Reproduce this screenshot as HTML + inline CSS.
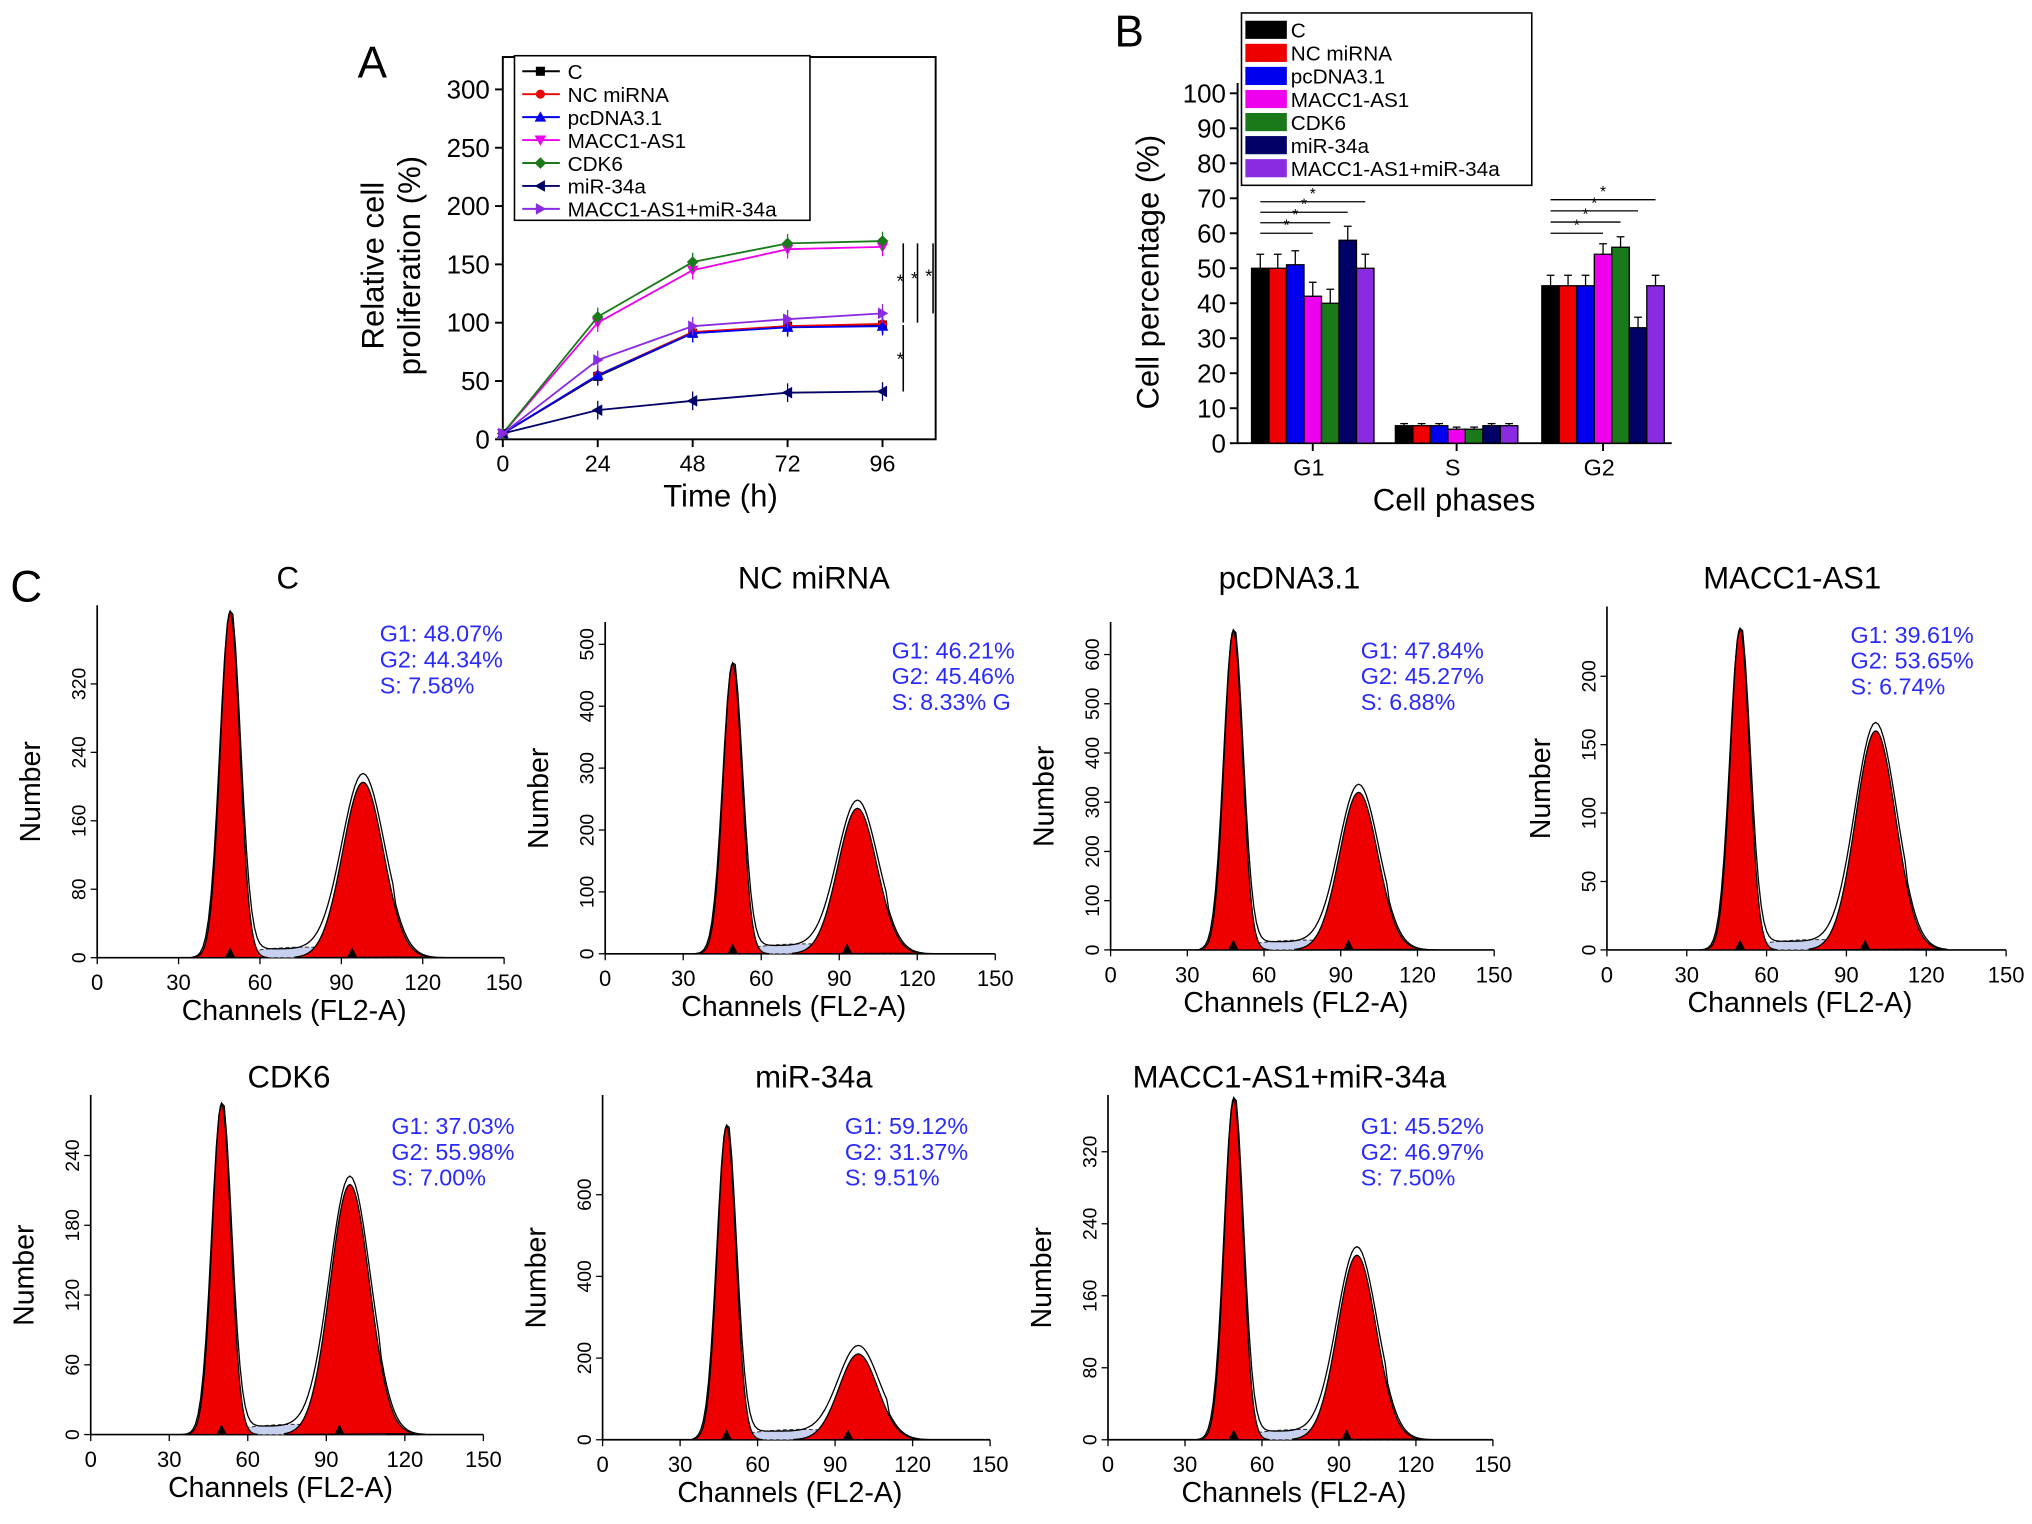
<!DOCTYPE html>
<html><head><meta charset="utf-8"><style>
html,body{margin:0;padding:0;background:#fff}
svg{display:block;font-family:"Liberation Sans",Arial,sans-serif}
</style></head><body>
<svg id="root" width="2032" height="1524" viewBox="0 0 1568 1176" xmlns="http://www.w3.org/2000/svg">
<rect width="1568" height="1176" fill="#fff"/>
<g id="pa"></g>
<g id="pb"></g>
<g id="pc"></g>
</svg>
<script>
// ---------- Panel A data ----------
const timeCats=[0,24,48,72,96];
const seriesNames=["C","NC miRNA","pcDNA3.1","MACC1-AS1","CDK6","miR-34a","MACC1-AS1+miR-34a"];
const seriesColors=["#000","#e00","#0000ee","#ee00ee","#1a7a1a","#000066","#8a2be2"];
const seriesMarkers=["square","circle","tri-up","tri-down","diamond","tri-left","tri-right"];
const sC=[5,54,91,97,98];
const sNC=[5,55,92,97,99];
const sPc=[5,55,91,96,97];
const sMA=[5,100,145,163,165];
const sCDK=[5,105,152,168,170];
const sMiR=[5,25,33,40,41];
const sCombo=[5,68,97,103,108];
const aTicksY=[0,50,100,150,200,250,300];
// ---------- Panel B data ----------
const phaseCats=["G1","S","G2"];
const bC=[50,5,45];
const bNC=[50,5,45];
const bPc=[51,5,45];
const bMA=[42,4,54];
const bCDK=[40,4,56];
const bMiR=[58,5,33];
const bCombo=[50,5,45];
const bErr=[4,0.6,3];
const bTicksY=[0,10,20,30,40,50,60,70,80,90,100];
// ---------- Panel C data ----------
const histTitles=["C","NC miRNA","pcDNA3.1","MACC1-AS1","CDK6","miR-34a","MACC1-AS1+miR-34a"];
const histG1=["G1: 48.07%","G1: 46.21%","G1: 47.84%","G1: 39.61%","G1: 37.03%","G1: 59.12%","G1: 45.52%"];
const histG2=["G2: 44.34%","G2: 45.46%","G2: 45.27%","G2: 53.65%","G2: 55.98%","G2: 31.37%","G2: 46.97%"];
const histS=["S: 7.58%","S: 8.33% G","S: 6.88%","S: 6.74%","S: 7.00%","S: 9.51%","S: 7.50%"];
const g1Peak=[405,470,650,235,285,770,380];
const g2Peak=[205,235,320,160,215,210,205];
const g1Mean=[49,49,48,50,50,48,49];
const g2Mean=[98,97,97,101,99,99,97];
const yMaxH=[412,536,666,251,292,844,383];
const yTickStep=[80,100,100,50,60,200,80];
const yTickMax=[320,500,600,200,240,600,320];

const NS="http://www.w3.org/2000/svg";
function mk(parent,tag,attrs,name,text){
  const e=document.createElementNS(NS,tag);
  for(const k in attrs)e.setAttribute(k,attrs[k]);
  
  
  if(text!==undefined)e.textContent=text;
  parent.appendChild(e);return e;
}
function marker(g,type,x,y,col,name){
  const r=3.5;let d;
  if(type==='circle'){return mk(g,'circle',{cx:x,cy:y,r:r,fill:col},name);}
  if(type==='square')d=`M${x-r},${y-r}h${2*r}v${2*r}h${-2*r}Z`;
  if(type==='tri-up')d=`M${x},${y-r-1}L${x+r+1},${y+r}L${x-r-1},${y+r}Z`;
  if(type==='tri-down')d=`M${x},${y+r+1}L${x+r+1},${y-r}L${x-r-1},${y-r}Z`;
  if(type==='diamond')d=`M${x},${y-r-1}L${x+r+1},${y}L${x},${y+r+1}L${x-r-1},${y}Z`;
  if(type==='tri-left')d=`M${x-r-1},${y}L${x+r},${y-r-1}L${x+r},${y+r+1}Z`;
  if(type==='tri-right')d=`M${x+r+1},${y}L${x-r},${y-r-1}L${x-r},${y+r+1}Z`;
  return mk(g,'path',{d:d,fill:col},name);
}
// ================= Panel A =================
(function(){
  const g=document.getElementById('pa');
  const x0=388,x1=722,yb=339,yt=44;
  const X=t=>x0+t*(293/96), Y=v=>yb-v*0.9;
  mk(g,'text',{x:276,y:60,'font-size':34},'panel-label-a','A');
  mk(g,'rect',{x:x0,y:yt,width:x1-x0,height:yb-yt,fill:'none',stroke:'#000','stroke-width':1.5},'plot-frame-a');
  aTicksY.forEach(v=>{mk(g,'line',{x1:x0-6,x2:x0,y1:Y(v),y2:Y(v),stroke:'#000','stroke-width':1.5},'y-tick');
    mk(g,'text',{x:x0-10,y:Y(v)+7,'font-size':20,'text-anchor':'end'},'y-tick-label',v);});
  timeCats.forEach(t=>{mk(g,'line',{x1:X(t),x2:X(t),y1:yb,y2:yb+6,stroke:'#000','stroke-width':1.5},'x-tick');
    mk(g,'text',{x:X(t),y:yb+25,'font-size':18,'text-anchor':'middle'},'x-tick-label',t);});
  mk(g,'text',{x:556,y:391,'font-size':24,'text-anchor':'middle'},'x-axis-title','Time (h)');
  mk(g,'text',{transform:'translate(296,205) rotate(-90)','font-size':24,'text-anchor':'middle'},'y-axis-title','Relative cell');
  mk(g,'text',{transform:'translate(324,205) rotate(-90)','font-size':24,'text-anchor':'middle'},'y-axis-title-2','proliferation (%)');
  const S=[sC,sNC,sPc,sMA,sCDK,sMiR,sCombo];
  S.forEach((arr,i)=>{
    const d=arr.map((v,j)=>(j?'L':'M')+X(timeCats[j])+','+Y(v)).join('');
    mk(g,'path',{d:d,fill:'none',stroke:seriesColors[i],'stroke-width':1.4},'line-'+i);
    arr.forEach((v,j)=>{
      if(j>0){mk(g,'line',{x1:X(timeCats[j]),x2:X(timeCats[j]),y1:Y(v+8),y2:Y(v-8),stroke:seriesColors[i],'stroke-width':1},'error-bar');}
      marker(g,seriesMarkers[i],X(timeCats[j]),Y(v),seriesColors[i],'point');
    });
  });
  [[697,Y(168),Y(100)],[708,Y(168),Y(100)],[720,Y(168),Y(108)],[697,Y(98),Y(41)]].forEach((l,i)=>{
    mk(g,'line',{x1:l[0],x2:l[0],y1:l[1],y2:l[2],stroke:'#000','stroke-width':1.2},'significance-line');});
  [[692,222],[703,220],[714,218],[692,282]].forEach(p=>mk(g,'text',{x:p[0],y:p[1],'font-size':14},'significance-star','*'));
  mk(g,'rect',{x:397,y:43,width:228,height:127,fill:'#fff',stroke:'#000','stroke-width':1.2},'legend-box-a');
  seriesNames.forEach((n,i)=>{const y=55+i*17.7;
    mk(g,'line',{x1:403,x2:432,y1:y,y2:y,stroke:seriesColors[i],'stroke-width':1.5},'legend-line');
    marker(g,seriesMarkers[i],417,y,seriesColors[i],'legend-marker');
    mk(g,'text',{x:438,y:y+6,'font-size':16},'legend-entry',n);});
})();
// ================= Panel B =================
(function(){
  const g=document.getElementById('pb');
  const x0=955,x1=1290,yb=342;
  const Y=v=>yb-v*2.7;
  const groupC=[1013,1124,1237], bw=13.5;
  mk(g,'text',{x:860,y:36,'font-size':34},'panel-label-b','B');
  mk(g,'line',{x1:x0,x2:x0,y1:yb,y2:Y(100)-8,stroke:'#000','stroke-width':1.5},'y-axis');
  mk(g,'line',{x1:x0,x2:x1,y1:yb,y2:yb,stroke:'#000','stroke-width':1.5},'x-axis');
  bTicksY.forEach(v=>{mk(g,'line',{x1:x0-6,x2:x0,y1:Y(v),y2:Y(v),stroke:'#000','stroke-width':1.5},'y-tick');
    mk(g,'text',{x:x0-9,y:Y(v)+7,'font-size':20,'text-anchor':'end'},'y-tick-label',v);});
  const B=[bC,bNC,bPc,bMA,bCDK,bMiR,bCombo];
  phaseCats.forEach((c,k)=>{
    mk(g,'line',{x1:groupC[k],x2:groupC[k],y1:yb,y2:yb+6,stroke:'#000','stroke-width':1.5},'x-tick');
    mk(g,'text',{x:groupC[k]-3,y:yb+25,'font-size':18,'text-anchor':'middle'},'x-tick-label',c);
    B.forEach((arr,i)=>{const x=groupC[k]-3.5*bw+i*bw;
      mk(g,'rect',{x:x,y:Y(arr[k]),width:bw,height:yb-Y(arr[k]),fill:seriesColors[i],stroke:'#000','stroke-width':1},'bar-'+c+'-'+i);
      const cx=x+bw/2,e=bErr[k];
      mk(g,'line',{x1:cx,x2:cx,y1:Y(arr[k]+e),y2:Y(arr[k]),stroke:'#000','stroke-width':1},'error-bar');
      mk(g,'line',{x1:cx-3,x2:cx+3,y1:Y(arr[k]+e),y2:Y(arr[k]+e),stroke:'#000','stroke-width':1},'error-cap');
    });
  });
  mk(g,'text',{x:1122,y:394,'font-size':24,'text-anchor':'middle'},'x-axis-title','Cell phases');
  mk(g,'text',{transform:'translate(894,210) rotate(-90)','font-size':24,'text-anchor':'middle'},'y-axis-title','Cell percentage (%)');
  [[0,1,3,Y(60)],[0,1,4,Y(63)],[0,1,5,Y(66)],[0,1,6,Y(69)]].forEach((b,i)=>{
    [0,2].forEach(k=>{const xs=groupC[k]-3.5*bw+bw/2;
      const yy=k==0?b[3]:Y(60+i*3.2);
      mk(g,'line',{x1:xs,x2:groupC[k]-3.5*bw+b[2]*bw+bw/2,y1:yy,y2:yy,stroke:'#000','stroke-width':1},'significance-bracket');
      mk(g,'text',{x:(xs+groupC[k]-3.5*bw+b[2]*bw+bw/2)/2,y:yy-2,'font-size':12,'text-anchor':'middle'},'significance-star','*');});
  });
  mk(g,'rect',{x:958,y:10,width:224,height:133,fill:'#fff',stroke:'#000','stroke-width':1.2},'legend-box-b');
  seriesNames.forEach((n,i)=>{const y=23+i*17.8;
    mk(g,'rect',{x:961,y:y-7,width:32,height:14,fill:seriesColors[i]},'legend-swatch');
    mk(g,'text',{x:996,y:y+6,'font-size':16},'legend-entry',n);});
})();
// ================= Panel C =================
(function(){
  const g=document.getElementById('pc');
  mk(g,'text',{x:8,y:464,'font-size':34},'panel-label-c','C');
  const P=[[75,389,739,467,222,446,293],[467,768,736,480,628,446,688],[857,1153,733,480,995,446,1050],[1240,1548,733,468,1383,446,1428],
           [70,373,1107,845,223,831,302],[465,764,1111,845,628,831,652],[855,1152,1111,845,995,831,1050]];
  const tx=[0,30,60,90,120,150];
  P.forEach((p,i)=>{
    const [xa,xb,yb,yt,tcx,tcy,lx]=p;
    const pg=mk(g,'g',{},'histogram-'+i);
    const X=c=>xa+(xb-xa)*c/150, Y=v=>yb-(yb-yt)*v/yMaxH[i];
    mk(pg,'text',{x:tcx,y:tcy+8,'font-size':24,'text-anchor':'middle'},'histogram-title',histTitles[i]);
    mk(pg,'line',{x1:xa,x2:xa,y1:yb,y2:yt,stroke:'#000','stroke-width':1.3},'y-axis');
    mk(pg,'line',{x1:xa,x2:xb,y1:yb,y2:yb,stroke:'#000','stroke-width':1.3},'x-axis');
    tx.forEach(t=>{mk(pg,'line',{x1:X(t),x2:X(t),y1:yb,y2:yb+5,stroke:'#000'},'x-tick');
      mk(pg,'text',{x:X(t),y:yb+25,'font-size':17,'text-anchor':'middle'},'x-tick-label',t);});
    for(let v=0;v<=yTickMax[i];v+=yTickStep[i]){
      mk(pg,'line',{x1:xa-5,x2:xa,y1:Y(v),y2:Y(v),stroke:'#000'},'y-tick');
      mk(pg,'text',{transform:`translate(${xa-9},${Y(v)}) rotate(-90)`,'font-size':15,'text-anchor':'middle'},'y-tick-label',v);}
    mk(pg,'text',{x:(xa+xb)/2-5,y:yb+48,'font-size':22,'text-anchor':'middle'},'x-axis-title','Channels (FL2-A)');
    mk(pg,'text',{transform:`translate(${xa-44},${(yb+yt)/2+8}) rotate(-90)`,'font-size':22,'text-anchor':'middle'},'y-axis-title','Number');
    let d1='M'+X(g1Mean[i]-14)+','+yb, d2='M'+X(g2Mean[i]-25)+','+yb, d3='M'+X(35)+','+yb, d4='M'+X(g1Mean[i]-8)+','+yb;
    for(let c=g1Mean[i]-14;c<=g1Mean[i]+14;c+=0.5)d1+='L'+X(c)+','+Y(g1Peak[i]*Math.exp(-((c-g1Mean[i])**2)/(2*3.6*3.6)));
    for(let c=g2Mean[i]-25;c<=g2Mean[i]+25;c+=0.5)d2+='L'+X(c)+','+Y(g2Peak[i]*Math.exp(-((c-g2Mean[i])**2)/(2*7.5*7.5)));
    for(let c=g1Mean[i]-8;c<=g2Mean[i]+14;c+=1)d4+='L'+X(c)+','+Y(yMaxH[i]*0.03*Math.sin(Math.PI*(c-g1Mean[i]+8)/(g2Mean[i]-g1Mean[i]+22)));
    for(let c=35;c<=128;c+=1){const v=g1Peak[i]*Math.exp(-((c-g1Mean[i])**2)/(2*3.8*3.8))+g2Peak[i]*Math.exp(-((c-g2Mean[i])**2)/(2*7.8*7.8))+yMaxH[i]*0.025*(c>g1Mean[i]&&c<g2Mean[i]+12?1:0);d3+='L'+X(c)+','+Y(v);}
    d1+='Z';d2+='Z';d4+='Z';
    mk(pg,'path',{d:d4,fill:'#c8d0f0',stroke:'#333','stroke-width':0.8,'stroke-dasharray':'3,2'},'s-phase-fit');
    mk(pg,'path',{d:d1,fill:'#e00',stroke:'#000','stroke-width':1},'g1-peak');
    mk(pg,'path',{d:d2,fill:'#e00',stroke:'#000','stroke-width':1},'g2-peak');
    mk(pg,'path',{d:d3,fill:'none',stroke:'#000','stroke-width':1},'raw-histogram');
    [g1Mean[i],g2Mean[i]-4].forEach(c=>mk(pg,'path',{d:`M${X(c)-4},${yb}L${X(c)+4},${yb}L${X(c)},${yb-8}Z`,fill:'#000'},'peak-marker'));
    [histG1[i],histG2[i],histS[i]].forEach((t,k)=>mk(pg,'text',{x:lx,y:(i<4?P[i][3]+28:P[i][3]+30)+k*20,'font-size':18,fill:'#2a2aff'},'phase-percent',t));
  });
})();
</script>
</body></html>
